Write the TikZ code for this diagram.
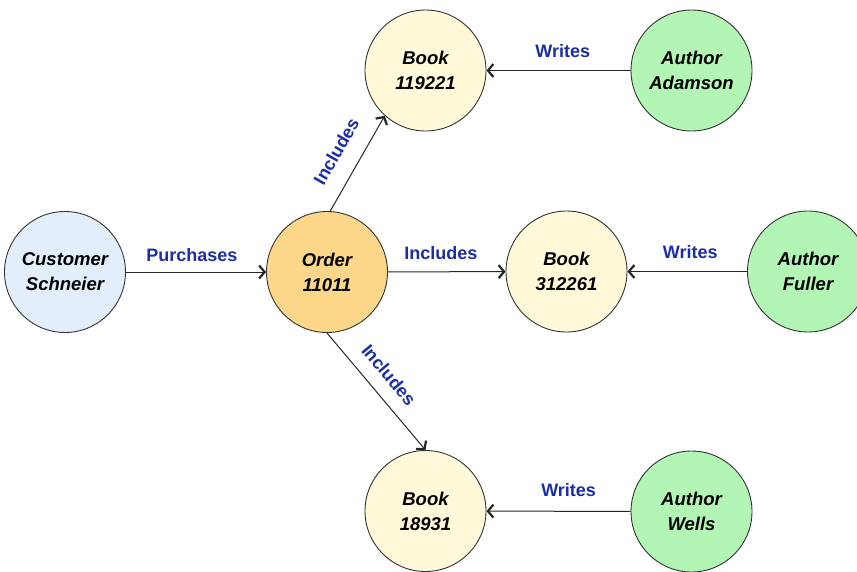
\documentclass[tikz,border=0pt]{standalone}
\usepackage{fontspec}
\setmainfont{Liberation Sans}
\usetikzlibrary{arrows.meta}

\definecolor{edgegray}{HTML}{262626}
\definecolor{rimgray}{HTML}{333333}
\definecolor{custfill}{HTML}{E2EEFC}
\definecolor{orderfill}{HTML}{FCD689}
\definecolor{bookfill}{HTML}{FFF8D9}
\definecolor{authfill}{HTML}{B3F5B4}
\definecolor{relblue}{HTML}{1B2EA6}

\tikzset{
  entity/.style={circle, draw=rimgray, line width=0.9pt, minimum size=121pt,
    inner sep=0pt, align=center,
    font=\bfseries\itshape\fontsize{18.5}{25}\selectfont},
  customer/.style={entity, fill=custfill},
  order/.style={entity, fill=orderfill},
  book/.style={entity, fill=bookfill},
  author/.style={entity, fill=authfill},
  rel/.style={draw=edgegray, line width=1pt,
    -{Straight Barb[length=5.5pt, width=13pt, line width=2.2pt]}},
  rellabel/.style={text=relblue, inner sep=0pt, anchor=base,
    font=\bfseries\fontsize{18}{22}\selectfont}
}

\begin{document}
\begin{tikzpicture}[x=1pt, y=-1pt]
  \useasboundingbox (0,0) rectangle (857,571);

  % entities
  \node[customer] (cust)   at (65,272)    {Customer\\Schneier};
  \node[order]    (ord)    at (327,272)   {Order\\11011};
  \node[book]     (bookA)  at (425.5,70.5) {Book\\119221};
  \node[book]     (bookB)  at (566.5,271.5) {Book\\312261};
  \node[book]     (bookC)  at (425.5,511)  {Book\\18931};
  \node[author]   (authA)  at (691.5,70.5) {Author\\Adamson};
  \node[author]   (authB)  at (808,271.5)  {Author\\Fuller};
  \node[author]   (authC)  at (691.5,511.5) {Author\\Wells};

  % purchase
  \draw[rel] (cust) -- node[rellabel, pos=0.47, yshift=11pt] {Purchases} (ord);

  % order contents
  \draw[rel] (ord.87) -- node[rellabel, pos=0.5, sloped, yshift=18pt] {Includes} (bookA.228);
  \draw[rel] (ord) -- node[rellabel, pos=0.45, yshift=12pt] {Includes} (bookB);
  \draw[rel] (ord.south) -- node[rellabel, pos=0.47, sloped, yshift=14pt] {Includes} (bookC.north);

  % authorship
  \draw[rel] (authA) -- node[rellabel, pos=0.47, yshift=13pt] {Writes} (bookA);
  \draw[rel] (authB) -- node[rellabel, pos=0.475, yshift=13pt] {Writes} (bookB);
  \draw[rel] (authC) -- node[rellabel, pos=0.43, yshift=14.5pt] {Writes} (bookC);
\end{tikzpicture}
\end{document}
